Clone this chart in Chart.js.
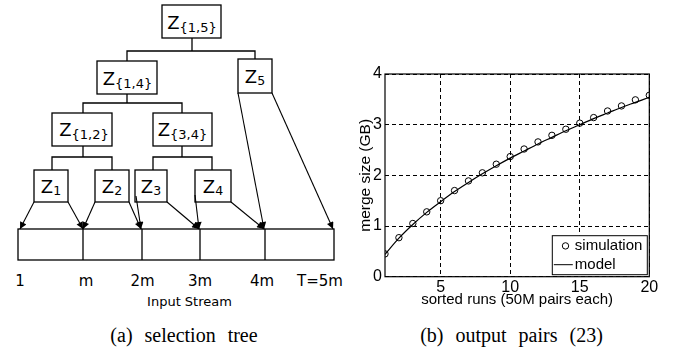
<!DOCTYPE html>
<html>
<head>
<meta charset="utf-8">
<script src="https://cdn.jsdelivr.net/npm/chart.js@4.4.0/dist/chart.umd.min.js"></script>
<style>
  html, body { margin: 0; padding: 0; background: #fff; }
  #wrap { position: relative; width: 677px; height: 354px; overflow: hidden; }
  #tree { position: absolute; left: 0; top: 0; }
  #cw { position: absolute; left: 340px; top: 0; width: 337px; height: 320px; }
</style>
</head>
<body>
<div id="wrap">
<svg id="tree" width="677" height="354" xmlns="http://www.w3.org/2000/svg">
  <defs>
    <marker id="ah" viewBox="0 0 10 10" refX="10" refY="5" markerWidth="8" markerHeight="7" markerUnits="userSpaceOnUse" orient="auto">
      <path d="M0,0 L10,5 L0,10 z" fill="#000"/>
    </marker>
  </defs>
  <g fill="none" stroke="#000" stroke-width="1.3">
    <!-- boxes -->
    <rect x="162" y="5" width="59" height="33"/>
    <rect x="97" y="61" width="60" height="33"/>
    <rect x="238" y="59" width="34" height="34"/>
    <rect x="52" y="113" width="60" height="33"/>
    <rect x="153" y="113" width="59" height="33"/>
    <rect x="34" y="170" width="34" height="32"/>
    <rect x="95" y="170" width="34" height="32"/>
    <rect x="135" y="170" width="32" height="32"/>
    <rect x="195" y="170" width="36" height="32"/>
    <!-- stream -->
    <rect x="18" y="229" width="316" height="31"/>
    <line x1="83" y1="229" x2="83" y2="260"/>
    <line x1="142" y1="229" x2="142" y2="260"/>
    <line x1="200" y1="229" x2="200" y2="260"/>
    <line x1="265" y1="229" x2="265" y2="260"/>
    <!-- connectors -->
    <polyline points="192,38 192,51"/>
    <polyline points="127,61 127,51 255,51 255,59"/>
    <polyline points="127,94 127,103"/>
    <polyline points="83,113 83,103 182,103 182,113"/>
    <polyline points="83,146 83,157"/>
    <polyline points="52,170 52,157 112,157 112,170"/>
    <polyline points="182,146 182,157"/>
    <polyline points="153,170 153,157 212,157 212,170"/>
    <!-- arrows -->
    <g stroke-width="1.1" marker-end="url(#ah)">
      <line x1="34" y1="202" x2="20" y2="229"/>
      <line x1="68" y1="202" x2="83" y2="229"/>
      <line x1="95" y1="202" x2="83" y2="229"/>
      <line x1="129" y1="202" x2="141" y2="229"/>
      <line x1="136" y1="196" x2="141" y2="229"/>
      <line x1="167" y1="202" x2="199" y2="229"/>
      <line x1="195" y1="195" x2="199" y2="229"/>
      <line x1="231" y1="202" x2="264" y2="229"/>
      <line x1="238" y1="93" x2="264" y2="229"/>
      <line x1="272" y1="93" x2="333" y2="229"/>
    </g>
  </g>
  <g font-family="DejaVu Sans" fill="#000" text-anchor="middle">
    <text x="192" y="29" font-size="18">Z<tspan font-size="13" dy="3">{1,5}</tspan></text>
    <text x="127.5" y="85" font-size="18">Z<tspan font-size="13" dy="3">{1,4}</tspan></text>
    <text x="255" y="83" font-size="18">Z<tspan font-size="12.5" dy="2">5</tspan></text>
    <text x="84" y="136" font-size="18">Z<tspan font-size="13" dy="3">{1,2}</tspan></text>
    <text x="182.5" y="136" font-size="18">Z<tspan font-size="13" dy="3">{3,4}</tspan></text>
    <text x="51" y="193" font-size="18">Z<tspan font-size="12.5" dy="2">1</tspan></text>
    <text x="112" y="193" font-size="18">Z<tspan font-size="12.5" dy="2">2</tspan></text>
    <text x="151" y="193" font-size="18">Z<tspan font-size="12.5" dy="2">3</tspan></text>
    <text x="213" y="193" font-size="18">Z<tspan font-size="12.5" dy="2">4</tspan></text>
    <g font-size="15">
      <text x="20" y="285.5">1</text>
      <text x="86" y="285.5">m</text>
      <text x="142.5" y="285.5">2m</text>
      <text x="200" y="285.5">3m</text>
      <text x="262" y="285.5">4m</text>
      <text x="320" y="285.5">T=5m</text>
    </g>
    <text x="189.5" y="306" font-size="13">Input Stream</text>
  </g>
  <g font-family="Liberation Serif" font-size="20" fill="#000" text-anchor="middle" word-spacing="7">
    <text x="184" y="342">(a) selection tree</text>
    <text x="511.5" y="342">(b) output pairs (23)</text>
  </g>
</svg>
<div id="cw"><canvas id="c" width="337" height="320"></canvas></div>
</div>
<script>
// ---- data ----
const runs = [1, 2, 3, 4, 5, 6, 7, 8, 9, 10, 11, 12, 13, 14, 15, 16, 17, 18, 19, 20];
const simulation = [0.45, 0.77, 1.05, 1.28, 1.50, 1.70, 1.89, 2.05, 2.22, 2.37, 2.52, 2.66, 2.79, 2.91, 3.03, 3.14, 3.27, 3.37, 3.49, 3.58];
const model = [0.44, 0.76, 1.03, 1.27, 1.48, 1.68, 1.86, 2.03, 2.19, 2.34, 2.48, 2.62, 2.75, 2.88, 3.00, 3.12, 3.23, 3.34, 3.44, 3.54];
const xTicks = [5, 10, 15, 20];
const yTicks = [0, 1, 2, 3, 4];
const seriesNames = ['simulation', 'model'];

const FONT = 'Liberation Sans';

const legendBox = {
  id: 'legendBox',
  afterDraw(chart) {
    const ctx = chart.ctx, a = chart.chartArea;
    ctx.save();
    // plot border
    ctx.strokeStyle = '#000';
    ctx.lineWidth = 1.2;
    ctx.setLineDash([]);
    ctx.strokeRect(a.left, a.top, a.right - a.left, a.bottom - a.top);
    // legend
    const w = 95, h = 39;
    const x = a.right - 2.5 - w, y = a.bottom - 2.5 - h;
    ctx.fillStyle = '#fff';
    ctx.fillRect(x, y, w, h);
    ctx.lineWidth = 1;
    ctx.strokeRect(x + 0.5, y + 0.5, w, h);
    ctx.beginPath();
    ctx.arc(x + 13.7, y + 10.7, 3.2, 0, Math.PI * 2);
    ctx.stroke();
    ctx.beginPath();
    ctx.moveTo(x + 2, y + 29.5);
    ctx.lineTo(x + 21, y + 29.5);
    ctx.stroke();
    ctx.fillStyle = '#000';
    ctx.font = '15px "' + FONT + '"';
    ctx.textBaseline = 'middle';
    ctx.textAlign = 'left';
    ctx.fillText(seriesNames[0], x + 23, y + 11);
    ctx.fillText(seriesNames[1], x + 23, y + 29.5);
    ctx.restore();
  }
};

new Chart(document.getElementById('c'), {
  type: 'line',
  data: {
    datasets: [
      {
        label: seriesNames[0],
        data: runs.map((r, i) => ({x: r, y: simulation[i]})),
        showLine: false,
        pointStyle: 'circle',
        pointRadius: 3.2,
        pointBorderWidth: 1,
        borderColor: '#000',
        pointBorderColor: '#000',
        backgroundColor: 'rgba(0,0,0,0)',
        pointBackgroundColor: 'rgba(0,0,0,0)'
      },
      {
        label: seriesNames[1],
        data: runs.map((r, i) => ({x: r, y: model[i]})),
        borderColor: '#000',
        borderWidth: 1.2,
        pointRadius: 0,
        fill: false,
        cubicInterpolationMode: 'monotone'
      }
    ]
  },
  options: {
    responsive: false,
    animation: false,
    devicePixelRatio: 1,
    layout: { padding: { top: 74, right: 27.7, left: 0, bottom: 0 } },
    plugins: { legend: { display: false }, tooltip: { enabled: false } },
    scales: {
      x: {
        type: 'linear',
        min: 1, max: 20,
        afterBuildTicks: s => { s.ticks = xTicks.map(v => ({value: v})); },
        afterFit: s => { s.height = 43.3; },
        grid: { color: '#000', lineWidth: 1, drawTicks: false },
        border: { display: false, dash: [4, 3] },
        ticks: { color: '#000', font: { family: FONT, size: 16 }, padding: 1, maxRotation: 0, autoSkip: false },
        title: { display: true, text: 'sorted runs (50M pairs each)', color: '#000', font: { family: FONT, size: 15 }, padding: { top: 0, bottom: 11 } }
      },
      y: {
        type: 'linear',
        min: 0, max: 4,
        afterBuildTicks: s => { s.ticks = yTicks.map(v => ({value: v})); },
        afterFit: s => { s.width = 45; },
        grid: { color: '#000', lineWidth: 1, drawTicks: false },
        border: { display: false, dash: [4, 3] },
        ticks: { color: '#000', font: { family: FONT, size: 16 }, padding: 3 },
        title: { display: true, text: 'merge size (GB)', color: '#000', font: { family: FONT, size: 15.5 }, padding: { top: 16, bottom: 0 } }
      }
    }
  },
  plugins: [legendBox]
});
</script>
</body>
</html>
